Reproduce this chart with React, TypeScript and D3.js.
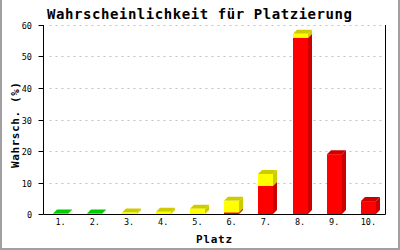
import React from "react";
import * as d3 from "d3";

const categories = ["1.", "2.", "3.", "4.", "5.", "6.", "7.", "8.", "9.", "10."];
const redValues = [0, 0, 0, 0, 0, 0.5, 8.9, 55.9, 19.0, 4.1];
const yellowValues = [0, 0, 0.5, 0.7, 1.7, 3.7, 3.8, 1.3, 0, 0];
const greenValues = [0.15, 0.15, 0, 0, 0, 0, 0, 0, 0, 0];
const yTicks = [0, 10, 20, 30, 40, 50, 60];

const titleText = "Wahrscheinlichkeit für Platzierung";
const xTitle = "Platz";
const yTitle = "Wahrsch. (%)";

const W = 400;
const H = 250;
const left = 43.5;
const right = 385.5;
const top = 25;
const bottom = 214;
const depth = 4;
const mono = "'DejaVu Sans Mono', 'Liberation Mono', monospace";

const seriesDefs = [
  { values: redValues, front: "#ff0000", dark: "#cc0000" },
  { values: yellowValues, front: "#ffff00", dark: "#cccc00" },
  { values: greenValues, front: "#00ff00", dark: "#00cc00" },
];

export default function App() {
  const x = d3.scaleBand<string>().domain(categories).range([left, right]).padding(0);
  const y = d3.scaleLinear().domain([0, 60]).range([bottom, top]);
  const barW = 15;

  const bars: React.ReactNode[] = [];
  categories.forEach((c, i) => {
    const cx = (x(c) ?? 0) + x.bandwidth() / 2;
    const x0 = Math.round(cx - barW / 2);
    const x1 = x0 + barW;
    let acc = 0;
    seriesDefs.forEach((s, si) => {
      const v = s.values[i];
      if (v <= 0) return;
      const yb = y(acc);
      const yt = y(acc + v);
      acc += v;
      const side = `M${x1},${yb} L${x1 + depth},${yb - depth} L${x1 + depth},${yt - depth} L${x1},${yt} Z`;
      const topFace = `M${x0},${yt} L${x0 + depth},${yt - depth} L${x1 + depth},${yt - depth} L${x1},${yt} Z`;
      bars.push(
        <g key={`${i}-${si}`}>
          <path d={side} fill={s.dark} />
          <path d={topFace} fill={s.dark} />
          <rect x={x0} y={yt} width={barW} height={yb - yt} fill={s.front} />
        </g>
      );
    });
  });

  return (
    <svg width={W} height={H} style={{ position: "absolute", left: 0, top: 0, background: "#fff" }}>
      <rect x={0} y={0} width={W} height={H} fill="#ffffff" />
      {/* frame */}
      <line x1={1} y1={0} x2={1} y2={H} stroke="#a0a0a0" strokeWidth={2} />
      <line x1={399} y1={0} x2={399} y2={H} stroke="#a0a0a0" strokeWidth={2} />
      <line x1={0} y1={249} x2={W} y2={249} stroke="#a0a0a0" strokeWidth={2} />

      {/* title */}
      <text x={199.5} y={19} textAnchor="middle" fontFamily={mono} fontWeight="bold" fontSize={14}
        textLength={305} lengthAdjust="spacing" fill="#000">{titleText}</text>

      {/* grid */}
      {yTicks.filter((t) => t > 0).map((t) => (
        <line key={`g${t}`} x1={left + 6} x2={right - 1} y1={Math.round(y(t)) + 0.5} y2={Math.round(y(t)) + 0.5}
          stroke="#c0c0c0" strokeDasharray="2,4" strokeWidth={1} />
      ))}

      {bars}

      {/* axes */}
      <line x1={left} y1={top} x2={left} y2={bottom + 0.5} stroke="#000" strokeWidth={1} />
      <line x1={right} y1={top} x2={right} y2={bottom + 0.5} stroke="#000" strokeWidth={1} />
      <line x1={left} y1={bottom + 0.5} x2={right} y2={bottom + 0.5} stroke="#000" strokeWidth={1} />

      {yTicks.map((t) => (
        <g key={`t${t}`}>
          <line x1={left - 5} x2={left} y1={Math.round(y(t)) + 0.5} y2={Math.round(y(t)) + 0.5} stroke="#000" />
          <text x={32} y={Math.round(y(t)) + 3.5} textAnchor="end" fontFamily={mono} fontSize={8.5} fill="#000">{t}</text>
        </g>
      ))}

      {categories.map((c) => (
        <text key={`x${c}`} x={(x(c) ?? 0) + x.bandwidth() / 2} y={225} textAnchor="middle"
          fontFamily={mono} fontSize={8.5} fill="#000">{c}</text>
      ))}

      <text x={214} y={242.5} textAnchor="middle" fontFamily={mono} fontWeight="bold" fontSize={11}
        textLength={36} lengthAdjust="spacing" fill="#000">{xTitle}</text>

      <text transform={`translate(18.5,125) rotate(-90)`} textAnchor="middle" fontFamily={mono} fontWeight="bold"
        fontSize={11} textLength={86} lengthAdjust="spacing" fill="#000">{yTitle}</text>
    </svg>
  );
}
